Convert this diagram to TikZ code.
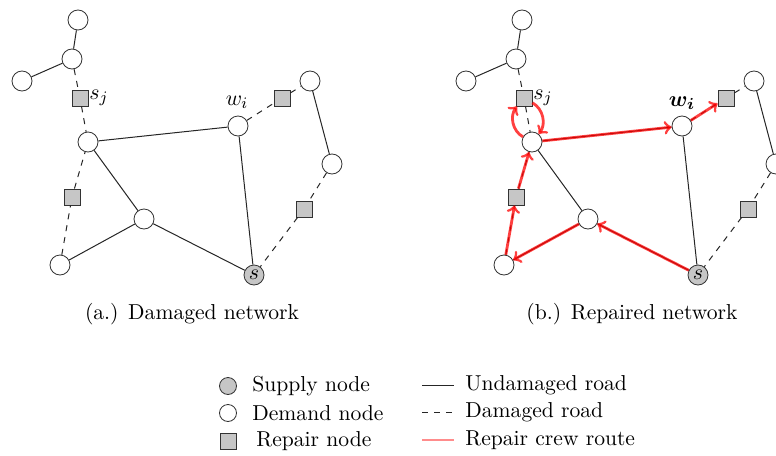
\documentclass[tikz,border=0pt]{standalone}
\usepackage{amsmath}
\usepackage{amssymb}
\usepackage{tikz}
\usepackage{xcolor}

\tikzset{
  demand/.style={circle,draw=black!80,fill=white,inner sep=0pt,minimum size=10pt},
  supply/.style={circle,draw=black!80,fill=gray!45,inner sep=0pt,minimum size=10pt},
  repair/.style={rectangle,draw=black!80,fill=gray!45,inner sep=0pt,minimum size=8pt},
  road/.style={draw=black!85,line width=0.5pt},
  damaged/.style={draw=black!85,line width=0.5pt,dashed},
  route/.style={->,red,opacity=.75,line width=1.4pt}
}

\begin{document}
\begin{tikzpicture}[x=0.5pt,y=-0.5pt,font=\fontsize{10.8}{13}\selectfont]
        \useasboundingbox (0,0) rectangle (776,455);
        % both networks
        \foreach \p/\dx in {a/0,b/444} {
            \begin{scope}[shift={(\dx,0)}]
                % nodes
                \node[demand] (\p A) at (78,20) {};
                \node[demand] (\p B) at (72,59) {};
                \node[demand] (\p C) at (22,81) {};
                \node[repair] (\p R1) at (80,98) {};
                \node[demand] (\p D) at (88,142) {};
                \node[demand] (\p W) at (238,126) {};
                \node[repair] (\p R2) at (282,98) {};
                \node[demand] (\p E) at (310,81) {};
                \node[demand] (\p F) at (332,164) {};
                \node[repair] (\p R3) at (304,209) {};
                \node[supply] (\p S) at (254,275) {$s$};
                \node[demand] (\p G) at (144,219) {};
                \node[repair] (\p R4) at (72,197) {};
                \node[demand] (\p H) at (60,265) {};
                % roads
                \draw[road] (\p A) -- (\p B);
                \draw[road] (\p B) -- (\p C);
                \draw[road] (\p D) -- (\p W);
                \draw[road] (\p E) -- (\p F);
                \draw[road] (\p S) -- (\p W);
                \draw[road] (\p S) -- (\p G);
                \draw[road] (\p G) -- (\p D);
                \draw[road] (\p G) -- (\p H);
                % damaged roads
                \draw[damaged] (\p B) -- (\p R1);
                \draw[damaged] (\p R1) -- (\p D);
                \draw[damaged] (\p W) -- (\p R2);
                \draw[damaged] (\p R2) -- (\p E);
                \draw[damaged] (\p F) -- (\p R3);
                \draw[damaged] (\p R3) -- (\p S);
                \draw[damaged] (\p H) -- (\p R4);
                \draw[damaged] (\p R4) -- (\p D);
            \end{scope}
        }
        % route
        \draw[route] (bS) -- (bG);
        \draw[route] (bG) -- (bH);
        \draw[route] (bH) -- (bR4);
        \draw[route] (bR4) -- (bD);
        \draw[route] (bD) to[bend left=50] (bR1);
        \draw[route] (bR1) to[bend left=50] (bD);
        \draw[route] (bD) -- (bW);
        \draw[route] (bW) -- (bR2);
        % labels
        \node (sja) at (99,98) {$s_j$};
        \node (wia) at (237,102) {$w_i$};
        \node (sjb) at (543,98) {$s_j$};
        \node (wib) at (682,103) {$\boldsymbol{w_i}$};
        \node (capa) at (192,314) {(a.) Damaged network};
        \node (capb) at (632,314) {(b.) Repaired network};
        % legend
        \node[supply,minimum size=8.5pt] (ls) at (228,386) {};
        \node[demand,minimum size=8.5pt] (ld) at (228,413) {};
        \node[repair] (lr) at (228,441) {};
        \node[anchor=west,inner sep=0pt] (tls) at (252,386) {Supply node};
        \node[anchor=west,inner sep=0pt] (tld) at (252,413) {Demand node};
        \node[anchor=west,inner sep=0pt] (tlr) at (256,441) {Repair node};
        \coordinate (l1a) at (422,385); \coordinate (l1b) at (454,385);
        \coordinate (l2a) at (422,412); \coordinate (l2b) at (454,412);
        \coordinate (l3a) at (422,440); \coordinate (l3b) at (454,440);
        \draw[road] (l1a) -- (l1b);
        \draw[damaged] (l2a) -- (l2b);
        \draw[red!45,line width=1.4pt] (l3a) -- (l3b);
        \node[anchor=west,inner sep=0pt] (tl1) at (465,385) {Undamaged road};
        \node[anchor=west,inner sep=0pt] (tl2) at (465,412) {Damaged road};
        \node[anchor=west,inner sep=0pt] (tl3) at (465,440) {Repair crew route};
    \end{tikzpicture}
\end{document}
